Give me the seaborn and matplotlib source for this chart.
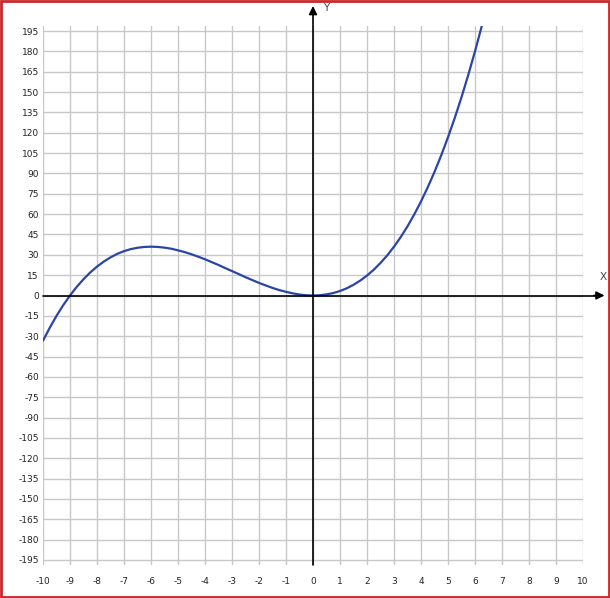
import numpy as np
import pandas as pd
import matplotlib
matplotlib.use("Agg")
import matplotlib.pyplot as plt
import seaborn as sns
from matplotlib.patches import Rectangle

# ---------------------------------------------------------------- data
x_vals = [-10, -9.75, -9.5, -9.25, -9, -8.75, -8.5, -8.25, -8, -7.75, -7.5, -7.25, -7,
          -6.75, -6.5, -6.25, -6, -5.75, -5.5, -5.25, -5, -4.75, -4.5, -4.25, -4,
          -3.75, -3.5, -3.25, -3, -2.75, -2.5, -2.25, -2, -1.75, -1.5, -1.25, -1,
          -0.75, -0.5, -0.25, 0, 0.25, 0.5, 0.75, 1, 1.25, 1.5, 1.75, 2, 2.25, 2.5,
          2.75, 3, 3.25, 3.5, 3.75, 4, 4.25, 4.5, 4.75, 5, 5.25, 5.5, 5.75, 6, 6.25]
y_vals = [-33.3, -23.8, -15.0, -7.1, 0.0, 6.4, 12.0, 17.0, 21.3, 25.0, 28.1, 30.7, 32.7,
          34.2, 35.2, 35.8, 36.0, 35.8, 35.3, 34.5, 33.3, 32.0, 30.4, 28.6, 26.7,
          24.6, 22.5, 20.2, 18.0, 15.8, 13.5, 11.4, 9.3, 7.4, 5.6, 4.0, 2.7,
          1.6, 0.7, 0.2, 0.0, 0.2, 0.8, 1.8, 3.3, 5.3, 7.9, 11.0, 14.7, 19.0, 24.0,
          29.6, 36.0, 43.1, 51.0, 59.8, 69.3, 79.8, 91.1, 103.4, 116.7, 130.9, 146.2, 162.6, 180.0, 198.6]

x_ticks = list(range(-10, 11))
y_ticks = list(range(-195, 196, 15))

df = pd.DataFrame({"x": x_vals, "y": y_vals})

# ---------------------------------------------------------------- figure
sns.set_style("white")
plt.rcParams["font.family"] = ["DejaVu Sans"]

W, H = 610, 598
fig = plt.figure(figsize=(W / 100, H / 100), dpi=100)
ax = fig.add_axes([43 / W, (H - 565) / H, 540 / W, 539 / H])

YLIM = 198.7
ax.set_xlim(-10, 10)
ax.set_ylim(-YLIM, YLIM)

# grid
for xt in x_ticks:
    ax.axvline(xt, color="#c8c8c8", lw=1, zorder=0)
for yt in y_ticks:
    ax.axhline(yt, color="#c8c8c8", lw=1, zorder=0)

sns.lineplot(data=df, x="x", y="y", ax=ax, color="#2b45a6", lw=1.6, zorder=3, sort=False)

for s in ax.spines.values():
    s.set_visible(False)
ax.set_xlabel("")
ax.set_ylabel("")
ax.set_xticks(x_ticks)
ax.set_yticks(y_ticks)
ax.set_xticklabels([str(t) for t in x_ticks])
ax.set_yticklabels([str(t) for t in y_ticks])
ax.tick_params(axis="both", length=0, labelsize=6.5, colors="#222222")
ax.tick_params(axis="x", pad=9)
ax.tick_params(axis="y", pad=3)

# axes through origin with arrows
ax.plot([-10, 10.5], [0, 0], color="black", lw=1.2, zorder=4, clip_on=False)
ax.plot([0, 0], [-YLIM, 210], color="black", lw=1.2, zorder=4, clip_on=False)
ax.annotate("", xy=(10.9, 0), xytext=(10.3, 0), annotation_clip=False,
            arrowprops=dict(arrowstyle="-|>", color="black", lw=1.2, mutation_scale=12))
ax.annotate("", xy=(0, 215.5), xytext=(0, 205), annotation_clip=False,
            arrowprops=dict(arrowstyle="-|>", color="black", lw=1.2, mutation_scale=12))
ax.text(10.75, 10, "X", fontsize=7.5, color="#444444", ha="center", va="bottom", clip_on=False)
ax.text(0.5, 212, "Y", fontsize=7.5, color="#444444", ha="center", va="center", clip_on=False)

# red frame around the picture
fig.patches.append(Rectangle((0.002, 0.002), 0.996, 0.996, transform=fig.transFigure,
                             fill=False, edgecolor="#c8282a", lw=2))

fig.savefig("out.png", dpi=100)
